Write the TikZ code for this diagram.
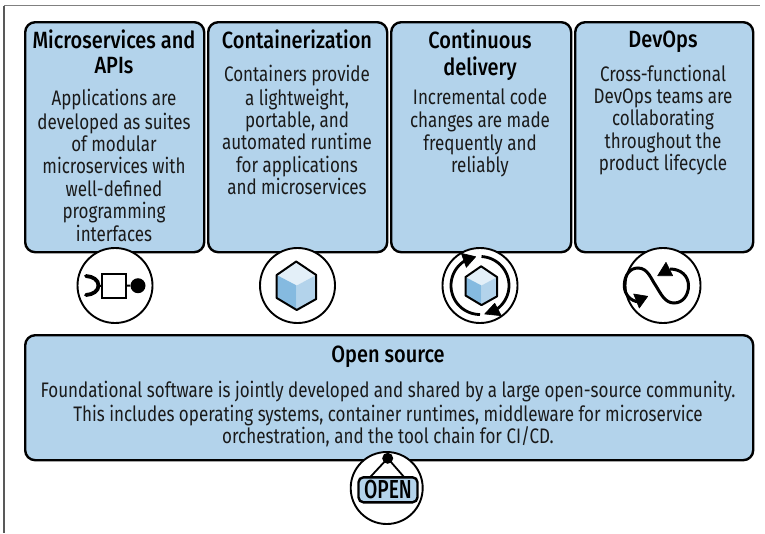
\documentclass[tikz,border=0pt]{standalone}
\usepackage{fontspec}
\setmainfont[FakeStretch=0.81]{Fira Sans}
\newfontfamily\titlefont[FakeStretch=0.85]{Fira Sans Medium}
\newfontfamily\signfont[FakeStretch=0.74]{Fira Sans Medium}
\definecolor{boxblue}{HTML}{B3D3EB}
\definecolor{cubetop}{HTML}{E3EFF8}
\definecolor{cubeleft}{HTML}{85BAE0}
\definecolor{cuberight}{HTML}{B3D3EB}
\definecolor{inkblack}{HTML}{1A1A1A}
\tikzset{
  card/.style={draw=black,line width=2.4pt,fill=boxblue,rounded corners=10pt,inner sep=0pt,anchor=north west},
  titletext/.style={anchor=north,inner sep=0pt,align=center,text=black,font=\titlefont\fontsize{23.5}{25}\selectfont},
  bodytext/.style={anchor=north,inner sep=0pt,align=center,text=inkblack,font=\fontsize{21}{22.4}\selectfont},
  iconring/.style={circle,draw=black,line width=1.9pt,fill=white,minimum size=75pt,inner sep=0pt},
  arcline/.style={draw=black,line width=2.8pt},
  headfill/.style={fill=black,draw=black,line width=.6pt,line join=round},
  frameline/.style={line width=1.3pt}
}
\newcommand{\cubeicon}[3]{%
  \begin{scope}[shift={(#1,#2)},x=#3pt,y=-#3pt]
    \fill[cubetop] (-.5,-24) -- (19.5,-10.5) -- (0,0) -- (-20,-10.5) -- cycle;
    \fill[cubeleft] (-20,-10.5) -- (0,0) -- (0,24.5) -- (-20,12.5) -- cycle;
    \fill[cuberight] (19.5,-10.5) -- (0,0) -- (0,24.5) -- (19.5,13.5) -- cycle;
    \draw[black,line width=2pt,line join=round] (-.5,-24) -- (19.5,-10.5) -- (19.5,13.5) -- (0,24.5) -- (-20,12.5) -- (-20,-10.5) -- cycle;
  \end{scope}}
\begin{document}
\begin{tikzpicture}[x=1pt,y=-1pt]
\useasboundingbox (0,0) rectangle (765,533);
\draw[frameline,draw=black!50] (4,5.7) -- (760,5.7);
\draw[frameline,draw=black!65] (4,5.7) -- (4,533);

\node[card,minimum width=179pt,minimum height=230pt] (cardA) at (24,21) {};
\node[card,minimum width=179pt,minimum height=230pt] (cardB) at (207,21) {};
\node[card,minimum width=180pt,minimum height=230pt] (cardC) at (390,21) {};
\node[card,minimum width=178pt,minimum height=230pt] (cardD) at (574,21) {};
\node[card,minimum width=728pt,minimum height=125pt] (cardE) at (24,334) {};

\node[titletext] (titleA) at (114,29.5) {\strut Microservices and\\APIs};
\node[bodytext] (bodyA) at (114,88.5) {\strut Applications are\\developed as suites\\of modular\\microservices with\\well-defined\\programming\\interfaces};
\node[titletext] (titleB) at (297,29.5) {\strut Containerization};
\node[bodytext] (bodyB) at (297,64.5) {\strut Containers provide\\a lightweight,\\portable, and\\automated runtime\\for applications\\and microservices};
\node[titletext] (titleC) at (480,29.5) {\strut Continuous\\delivery};
\node[bodytext] (bodyC) at (480,88.5) {\strut Incremental code\\changes are made\\frequently and\\reliably};
\node[titletext] (titleD) at (663,29.5) {\strut DevOps};
\node[bodytext] (bodyD) at (663,64.5) {\strut Cross-functional\\DevOps teams are\\collaborating\\throughout the\\product lifecycle};
\node[titletext] (titleE) at (388,345) {\strut Open source};
\node[bodytext] (bodyE) at (388,380.5) {\strut Foundational software is jointly developed and shared by a large open-source community.\\This includes operating systems, container runtimes, middleware for microservice\\orchestration, and the tool chain for CI/CD.};

% microservice icon
\node[iconring] (ringA) at (115,285.5) {};
\node[draw=black,line width=2pt,fill=white,minimum size=24pt,inner sep=0pt] (apiBox) at (113.5,285.5) {};
\node[circle,fill=black,minimum size=15pt,inner sep=0pt] (apiBall) at (138,285.7) {};
\draw[black,line width=2pt] (apiBox) -- (apiBall);
\coordinate (socketApex) at (98.5,285.5);
\draw[black,line width=3.8pt,line cap=round] (86,276) .. controls (93,276.5) and (98.5,280) .. (socketApex) .. controls (98.5,291) and (93,294.5) .. (86,295);
\draw[black,line width=2pt] (apiBox.west) -- (socketApex);

% container icon
\node[iconring] (ringB) at (297.5,285.5) {};
\cubeicon{296.7}{285.5}{1}

% continuous delivery icon
\node[iconring] (ringC) at (480,285.5) {};
\cubeicon{481.5}{285.5}{.8}
\draw[arcline] plot[domain=-87:67,samples=40,smooth] ({480+29*cos(\x)},{285.5+29*sin(\x)});
\draw[arcline] plot[domain=90:249,samples=40,smooth] ({480+29*cos(\x)},{285.5+29*sin(\x)});
\fill[headfill] (461.3,253.3) -- (475.7,256.7) -- (466.3,267.3) -- cycle;
\fill[headfill] (501.3,315.7) -- (484.7,314) -- (494.7,303.3) -- cycle;

% devops icon
\node[iconring] (ringD) at (663,285.5) {};
\draw[arcline,line width=3pt] (639,302) .. controls (630,301) and (624.3,294) .. (624.3,285.7) .. controls (624.3,275) and (630,268) .. (638,268) .. controls (648,268) and (651,279) .. (656,286) .. controls (661,294) and (665,303) .. (674,303) .. controls (683,303) and (688.5,295) .. (688.5,285.7) .. controls (688.5,276) and (681,269) .. (670,269);
\fill[headfill] (633.7,294) -- (647.7,296.3) -- (639.3,308) -- cycle;
\fill[headfill] (666,262.3) -- (657.7,275.7) -- (672.7,275.7) -- cycle;

% open icon
\node[iconring,minimum size=72pt] (ringE) at (386.7,488) {};
\node[draw=black,line width=2.4pt,fill=boxblue,rounded corners=5pt,minimum width=59pt,minimum height=25pt,inner sep=0pt] (openSign) at (388,489.8) {};
\node[inner sep=0pt,font=\signfont\fontsize{26}{26}\selectfont] (openText) at (388,490) {OPEN};
\node[circle,fill=black,minimum size=11pt,inner sep=0pt] (openPin) at (387.7,458.3) {};
\draw[black,line width=1.8pt,line join=round] (370,477.3) -- (openPin.center) -- (404.3,477.3);
\end{tikzpicture}
\end{document}
